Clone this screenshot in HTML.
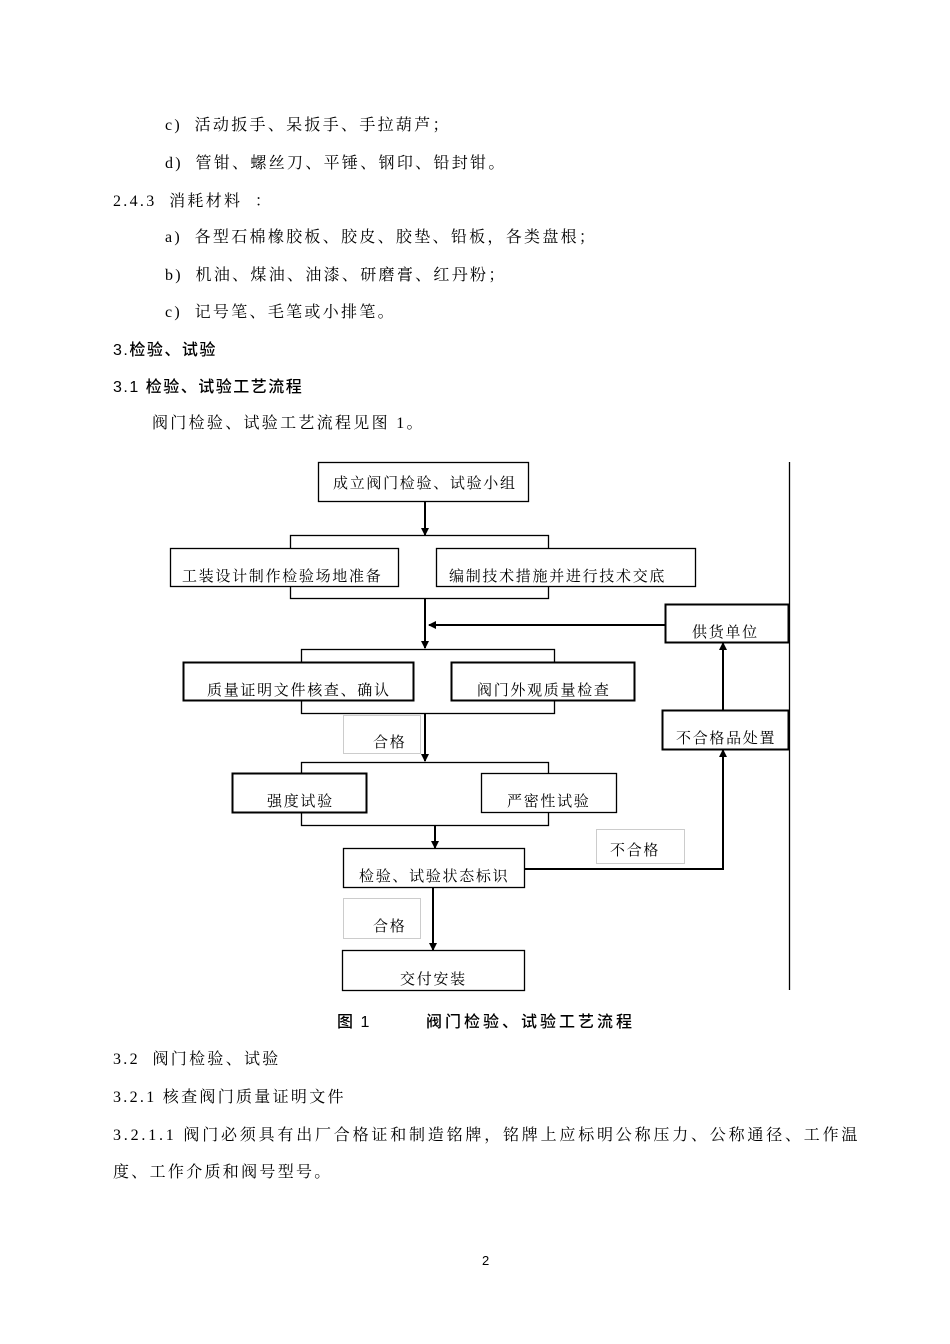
<!DOCTYPE html>
<html><head><meta charset="utf-8"><style>
body{margin:0;width:950px;height:1344px;background:#fff;position:relative;overflow:hidden;font-family:"Liberation Serif","Noto Serif CJK SC",serif;color:#000}
.t{position:absolute;font-size:16px;line-height:20px;white-space:nowrap;letter-spacing:2.3px}
.h{font-family:"Liberation Sans","Noto Sans CJK SC",sans-serif;font-weight:500;letter-spacing:1.5px}
svg{position:absolute;left:0;top:0}
svg text{font-family:"Liberation Serif","Noto Serif CJK SC",serif;font-size:15px;letter-spacing:1.7px}
</style></head><body>
<div class="t" style="left:165px;top:116px">c)&nbsp;&nbsp;活动扳手、呆扳手、手拉葫芦；</div>
<div class="t" style="left:165px;top:154px">d)&nbsp;&nbsp;管钳、螺丝刀、平锤、钢印、铅封钳。</div>
<div class="t" style="left:113px;top:192px">2.4.3&nbsp;&nbsp;消耗材料&nbsp;&nbsp;：</div>
<div class="t" style="left:165px;top:228px">a)&nbsp;&nbsp;各型石棉橡胶板、胶皮、胶垫、铅板，各类盘根；</div>
<div class="t" style="left:165px;top:266px">b)&nbsp;&nbsp;机油、煤油、油漆、研磨膏、红丹粉；</div>
<div class="t" style="left:165px;top:303px">c)&nbsp;&nbsp;记号笔、毛笔或小排笔。</div>
<div class="t h" style="left:113px;top:341px">3.检验、试验</div>
<div class="t h" style="left:113px;top:378px">3.1 检验、试验工艺流程</div>
<div class="t" style="left:152px;top:414px">阀门检验、试验工艺流程见图 1。</div>

<svg width="950" height="1344" viewBox="0 0 950 1344">
<defs><marker id="a" markerWidth="8" markerHeight="8" refX="7" refY="4" orient="auto" markerUnits="userSpaceOnUse"><path d="M0,0 L8,4 L0,8z" fill="#000"/></marker></defs>
<g fill="none" stroke="#000" stroke-width="1.3">
<rect x="318.5" y="462.5" width="210" height="39"/>
<rect x="290.5" y="535.5" width="258" height="63"/>
<rect x="301.5" y="649.5" width="253" height="64"/>
<rect x="301.5" y="762.5" width="247" height="63"/>
<line x1="789.5" y1="462" x2="789.5" y2="990"/>
</g>
<g fill="#fff" stroke="#000" stroke-width="1.3">
<rect x="170.5" y="548.5" width="228" height="38"/>
<rect x="436.5" y="548.5" width="259" height="38"/>
<rect x="665.5" y="604.5" width="123" height="38" stroke-width="2"/>
<rect x="183.5" y="662.5" width="230" height="38" stroke-width="2"/>
<rect x="451.5" y="662.5" width="183" height="38" stroke-width="2"/>
<rect x="662.5" y="710.5" width="126" height="39" stroke-width="2"/>
<rect x="232.5" y="773.5" width="134" height="39" stroke-width="2"/>
<rect x="481.5" y="773.5" width="135" height="39"/>
<rect x="343.5" y="848.5" width="181" height="39"/>
<rect x="342.5" y="950.5" width="182" height="40"/>
</g>
<g fill="#fff" stroke="#ccc" stroke-width="1">
<rect x="343.5" y="715.5" width="77" height="38"/>
<rect x="596.5" y="829.5" width="88" height="34"/>
<rect x="343.5" y="898.5" width="77" height="40"/>
</g>
<g stroke="#000" stroke-width="2" marker-end="url(#a)">
<line x1="425" y1="501" x2="425" y2="535"/>
<line x1="425" y1="598" x2="425" y2="648"/>
<line x1="665" y1="625" x2="429" y2="625"/>
<line x1="425" y1="713" x2="425" y2="761"/>
<line x1="435" y1="825" x2="435" y2="848"/>
<line x1="433" y1="887" x2="433" y2="950"/>
<polyline points="524,869 723,869 723,750" fill="none"/>
<line x1="723" y1="710" x2="723" y2="643"/>
</g>
<g fill="#000">
<text x="333" y="488">成立阀门检验、试验小组</text>
<text x="182" y="581">工装设计制作检验场地准备</text>
<text x="449" y="581">编制技术措施并进行技术交底</text>
<text x="692" y="637">供货单位</text>
<text x="207" y="695">质量证明文件核查、确认</text>
<text x="477" y="695">阀门外观质量检查</text>
<text x="676" y="743">不合格品处置</text>
<text x="373" y="747">合格</text>
<text x="267" y="806">强度试验</text>
<text x="507" y="806">严密性试验</text>
<text x="610" y="855">不合格</text>
<text x="359" y="881">检验、试验状态标识</text>
<text x="373" y="931">合格</text>
<text x="400" y="984">交付安装</text>
</g>
</svg>
<div class="t h" style="left:337px;top:1013px">图 1</div>
<div class="t h" style="left:426px;top:1013px;letter-spacing:3px">阀门检验、试验工艺流程</div>
<div class="t" style="left:113px;top:1050px">3.2&nbsp;&nbsp;阀门检验、试验</div>
<div class="t" style="left:113px;top:1088px">3.2.1 核查阀门质量证明文件</div>
<div class="t" style="left:113px;top:1126px;letter-spacing:2.8px">3.2.1.1 阀门必须具有出厂合格证和制造铭牌，铭牌上应标明公称压力、公称通径、工作温</div>
<div class="t" style="left:113px;top:1163px">度、工作介质和阀号型号。</div>
<div class="t" style="left:482px;top:1251px;font-size:13px;font-family:'Liberation Sans',sans-serif;letter-spacing:0">2</div>
</body></html>
